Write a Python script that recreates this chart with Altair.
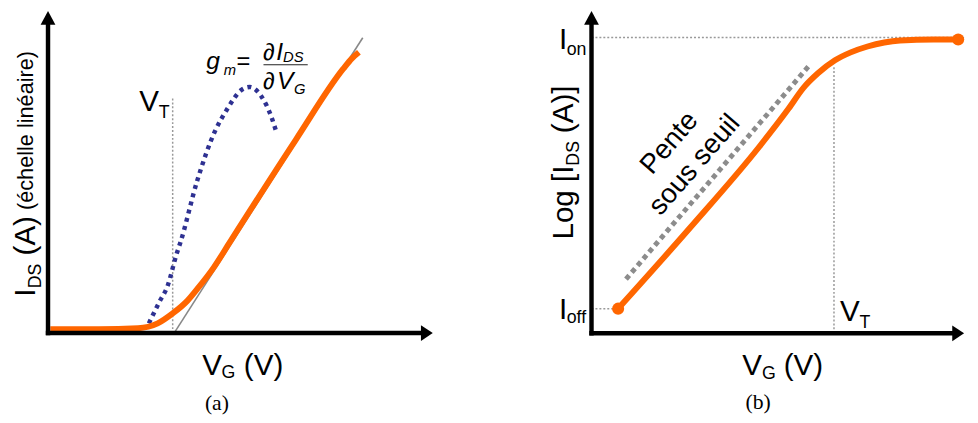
import altair as alt
import pandas as pd

# ---------------- Panel (a): I_DS (linear) vs V_G, arbitrary units ----------------
a_ids_vg = [0.06, 1.32, 2.34, 2.85, 3.24, 3.62, 3.88, 4.31, 4.72, 6.44, 7.67, 7.90, 8.08]
a_ids_val = [0.12, 0.12, 0.15, 0.30, 0.61, 1.00, 1.37, 2.04, 2.81, 6.00, 8.20, 8.53, 8.72]
a_tangent_vg = [3.29, 8.18]
a_tangent_val = [0.02, 9.17]
a_gm_vg = [2.62, 2.90, 3.11, 3.34, 3.44, 3.88, 4.34, 4.65, 5.03, 5.24, 5.55, 5.80, 5.95]
a_gm_val = [0.30, 0.98, 1.47, 2.45, 2.81, 4.74, 6.27, 6.94, 7.55, 7.64, 7.34, 6.73, 6.18]
a_vt = 3.24
a_vt_top = 7.30
a_x_end = 10.0
a_y_end = 10.0

# labels of panel (a): text, vg, ids
a_big_text = ["V", "(V)", "V"]
a_big_vg = [4.01, 5.09, 2.37]
a_big_val = [-1.29, -1.29, 6.88]
a_sub_text = ["G", "T"]
a_sub_vg = [4.51, 2.88]
a_sub_val = [-1.41, 6.69]
a_rot_big_text = ["I", "(A)"]
a_rot_big_vg = [-0.35, -0.35]
a_rot_big_val = [1.13, 2.41]
a_rot_sub_text = ["DS"]
a_rot_sub_vg = [-0.19]
a_rot_sub_val = [1.39]
a_rot_small_text = ["(échelle linéaire)"]
a_rot_small_vg = [-0.40]
a_rot_small_val = [3.82]
a_gm_it_text = ["g", "I", "V"]
a_gm_it_vg = [4.11, 5.93, 5.95]
a_gm_it_val = [8.19, 8.47, 7.58]
a_gm_itsub_text = ["m", "DS", "G"]
a_gm_itsub_vg = [4.57, 6.11, 6.39]
a_gm_itsub_val = [8.01, 8.41, 7.43]
a_gm_reg_text = ["=", "∂", "∂"]
a_gm_reg_vg = [4.90, 5.59, 5.59]
a_gm_reg_val = [8.19, 8.47, 7.58]
a_frac_vg = [5.60, 6.75]
a_frac_val = 8.33
a_caption = ["(a)"]
a_caption_vg = [4.39]
a_caption_val = [-2.18]

# ---------------- Panel (b): log10 I_DS vs V_G ----------------
b_ids_vg = [0.675, 2.5, 4.25, 5.0, 5.375, 5.75, 6.175, 6.575, 7.0, 7.425, 7.825, 8.675, 9.3]
b_ids_log = [-12.0, -9.614, -7.229, -6.095, -5.484, -5.047, -4.669, -4.436, -4.262, -4.145, -4.087, -4.058, -4.058]
b_ss_vg = [0.875, 5.55]
b_ss_log = [-11.127, -4.785]
b_ion = -4.0
b_ioff = -12.0
b_vt = 6.15
b_vt_top = -4.815
b_floor = -12.727
b_x_end = 9.45
b_y_end = -3.2145

b_big_text = ["V", "(V)", "I", "I", "V"]
b_big_vg = [3.825, 4.875, -0.825, -0.825, 6.30]
b_big_log = [-13.949, -13.949, -4.349, -12.291, -12.378]
b_sub_text = ["G", "on", "off", "T"]
b_sub_vg = [4.325, -0.63, -0.63, 6.80]
b_sub_log = [-14.065, -4.524, -12.436, -12.582]
b_rot_big_text = ["Log [I", "(A)]"]
b_rot_big_vg = [-0.475, -0.475]
b_rot_big_log = [-9.96, -6.82]
b_rot_sub_text = ["DS"]
b_rot_sub_vg = [-0.325]
b_rot_sub_log = [-7.78]
b_slope_text = ["Pente", "sous seuil"]
b_slope_vg = [1.98, 2.62]
b_slope_log = [-7.12, -7.76]
b_caption = ["(b)"]
b_caption_vg = [4.225]
b_caption_log = [-14.764]

ORANGE = "#ff6600"
SANS = "Liberation Sans"
UP = "M0,0L-1,1.87L1,1.87Z"
RIGHT = "M0,0L-1.5,-1L-1.5,1Z"


def text_layer(xs, ys, texts, xv, yv, **kw):
    df = pd.DataFrame({"t": texts, "x": xv, "y": yv})
    return alt.Chart(df).mark_text(**kw).encode(
        x=alt.X("x:Q", scale=xs, axis=None),
        y=alt.Y("y:Q", scale=ys, axis=None),
        text="t:N",
    )


def line_layer(xs, ys, xv, yv, **kw):
    df = pd.DataFrame({"x": xv, "y": yv})
    return alt.Chart(df).mark_line(**kw).encode(
        x=alt.X("x:Q", scale=xs, axis=None),
        y=alt.Y("y:Q", scale=ys, axis=None),
    )


def seg_layer(xs, ys, x1, y1, x2, y2, **kw):
    df = pd.DataFrame({"x": x1, "y": y1, "x2": x2, "y2": y2})
    return alt.Chart(df).mark_rule(**kw).encode(
        x=alt.X("x:Q", scale=xs, axis=None),
        y=alt.Y("y:Q", scale=ys, axis=None),
        x2="x2:Q",
        y2="y2:Q",
    )


def arrow_layer(xs, ys, xv, yv, shape, size):
    df = pd.DataFrame({"x": xv, "y": yv})
    return alt.Chart(df).mark_point(
        shape=shape, filled=True, size=size, color="black", opacity=1, strokeWidth=0
    ).encode(
        x=alt.X("x:Q", scale=xs, axis=None),
        y=alt.Y("y:Q", scale=ys, axis=None),
    )


BIG = 30
SUB = 18

# ---------- build panel (a) ----------
xa = alt.Scale(domain=[-1.04, 11], nice=False, zero=False)
ya = alt.Scale(domain=[-2.7, 10], nice=False, zero=False)

pa = alt.layer(
    seg_layer(xa, ya, [a_vt], [0], [a_vt], [a_vt_top], color="#999999", strokeWidth=1.5, strokeDash=[2, 2]),
    line_layer(xa, ya, a_tangent_vg, a_tangent_val, color="#888888", strokeWidth=1.6),
    line_layer(xa, ya, a_gm_vg, a_gm_val, color="#2e3192", strokeWidth=4.5, strokeDash=[4, 4.5],
               interpolate="monotone", strokeCap="butt"),
    line_layer(xa, ya, a_ids_vg, a_ids_val, color=ORANGE, strokeWidth=6, interpolate="monotone"),
    seg_layer(xa, ya, [0, 0], [0, 0], [a_x_end - 0.3, 0], [0, a_y_end - 0.4], color="black",
              strokeWidth=4.5, strokeCap="square"),
    arrow_layer(xa, ya, [0], [a_y_end], UP, 225),
    arrow_layer(xa, ya, [a_x_end], [0], RIGHT, 256),
    seg_layer(xa, ya, [a_frac_vg[0]], [a_frac_val], [a_frac_vg[1]], [a_frac_val], color="#222222", strokeWidth=1.2),
    text_layer(xa, ya, a_big_text, a_big_vg, a_big_val, font=SANS, fontSize=BIG, align="left", baseline="alphabetic", color="black"),
    text_layer(xa, ya, a_sub_text, a_sub_vg, a_sub_val, font=SANS, fontSize=SUB, align="left", baseline="alphabetic", color="black"),
    text_layer(xa, ya, a_rot_big_text, a_rot_big_vg, a_rot_big_val, font=SANS, fontSize=BIG, align="left", baseline="alphabetic", angle=270, color="black"),
    text_layer(xa, ya, a_rot_sub_text, a_rot_sub_vg, a_rot_sub_val, font=SANS, fontSize=SUB, align="left", baseline="alphabetic", angle=270, color="black"),
    text_layer(xa, ya, a_rot_small_text, a_rot_small_vg, a_rot_small_val, font=SANS, fontSize=22, align="left", baseline="alphabetic", angle=270, color="black"),
    text_layer(xa, ya, a_gm_it_text, a_gm_it_vg, a_gm_it_val, font=SANS, fontSize=25, fontStyle="italic", align="left", baseline="alphabetic", color="black"),
    text_layer(xa, ya, a_gm_itsub_text, a_gm_itsub_vg, a_gm_itsub_val, font=SANS, fontSize=15, fontStyle="italic", align="left", baseline="alphabetic", color="black"),
    text_layer(xa, ya, a_gm_reg_text, a_gm_reg_vg, a_gm_reg_val, font=SANS, fontSize=24, align="left", baseline="alphabetic", color="black"),
    text_layer(xa, ya, a_caption, a_caption_vg, a_caption_val, font="Liberation Serif", fontSize=22, align="center", baseline="middle", color="black"),
).properties(width=470, height=415)

# ---------- build panel (b) ----------
xb = alt.Scale(domain=[-3.05, b_x_end], nice=False, zero=False)
yb = alt.Scale(domain=[-15.287, b_y_end], nice=False, zero=False)

b_ends = pd.DataFrame({"x": [b_ids_vg[0], b_ids_vg[-1]], "y": [b_ids_log[0], b_ids_log[-1]]})

pb = alt.layer(
    seg_layer(xb, yb, [0, 0, b_vt], [b_ion, b_ioff, b_floor], [b_x_end, b_ids_vg[0], b_vt], [b_ion, b_ioff, b_vt_top],
              color="#999999", strokeWidth=1.5, strokeDash=[2, 2]),
    line_layer(xb, yb, b_ss_vg, b_ss_log, color="#8c8c8c", strokeWidth=5, strokeDash=[5, 4], strokeCap="butt"),
    line_layer(xb, yb, b_ids_vg, b_ids_log, color=ORANGE, strokeWidth=6, interpolate="monotone"),
    alt.Chart(b_ends).mark_circle(size=150, color=ORANGE, opacity=1).encode(
        x=alt.X("x:Q", scale=xb, axis=None), y=alt.Y("y:Q", scale=yb, axis=None)),
    seg_layer(xb, yb, [0, 0], [b_floor, b_floor], [b_x_end - 0.25, 0], [b_floor, b_y_end - 0.35], color="black",
              strokeWidth=4.5, strokeCap="square"),
    arrow_layer(xb, yb, [0], [b_y_end], UP, 225),
    arrow_layer(xb, yb, [b_x_end], [b_floor], RIGHT, 256),
    text_layer(xb, yb, b_big_text, b_big_vg, b_big_log, font=SANS, fontSize=BIG, align="left", baseline="alphabetic", color="black"),
    text_layer(xb, yb, b_sub_text, b_sub_vg, b_sub_log, font=SANS, fontSize=SUB, align="left", baseline="alphabetic", color="black"),
    text_layer(xb, yb, b_rot_big_text, b_rot_big_vg, b_rot_big_log, font=SANS, fontSize=BIG, align="left", baseline="alphabetic", angle=270, color="black"),
    text_layer(xb, yb, b_rot_sub_text, b_rot_sub_vg, b_rot_sub_log, font=SANS, fontSize=SUB, align="left", baseline="alphabetic", angle=270, color="black"),
    text_layer(xb, yb, b_slope_text, b_slope_vg, b_slope_log, font=SANS, fontSize=28, align="center", baseline="middle", angle=311, color="black"),
    text_layer(xb, yb, b_caption, b_caption_vg, b_caption_log, font="Liberation Serif", fontSize=22, align="center", baseline="middle", color="black"),
).properties(width=500, height=415)

chart = alt.hconcat(pa, pb, spacing=0, bounds="flush").properties(padding=0).configure_view(stroke=None)

chart.save("out.html", embed_options={"renderer": "svg", "actions": False})
